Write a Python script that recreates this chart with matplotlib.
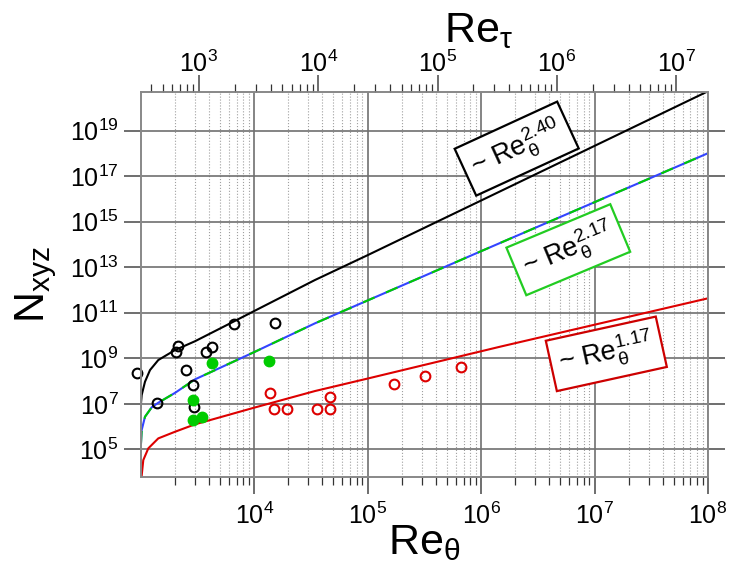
import matplotlib
matplotlib.use("Agg")
import matplotlib.pyplot as plt
from matplotlib.ticker import LogLocator, NullLocator, LogFormatterMathtext, NullFormatter

plt.rcParams['font.family'] = ['Liberation Sans', 'DejaVu Sans']
plt.rcParams['mathtext.fontset'] = 'custom'
plt.rcParams['mathtext.rm'] = 'Liberation Sans'
plt.rcParams['mathtext.it'] = 'Liberation Sans:italic'
plt.rcParams['mathtext.bf'] = 'Liberation Sans:bold'

# fitted curves
re_black = [1000, 1020, 1091, 1208, 1429, 2004, 3010, 5534, 1e4, 34360, 1e5, 1e6, 1e8]
n_black = [7.45e6, 2.43e7, 9.35e7, 3.05e8, 8.39e8, 2.29e9, 5.62e9, 2.63e10, 1.19e11, 2.75e12,
           3.39e13, 8.51e15, 5.37e20]

re_green = [1006, 1020, 1091, 1250, 1429, 2004, 3010, 1e4, 34360, 1e6, 1e8]
n_green = [1.84e5, 7.05e5, 2.71e6, 7.01e6, 1.12e7, 3.02e7, 1.19e8, 1.87e9, 3.44e10, 5.07e13, 1.02e18]

re_red = [1002, 1054, 1167, 1429, 2004, 3010, 1e4, 34360, 1e5, 1.469e6, 1e8]
n_red = [3.0e3, 3.39e4, 1.11e5, 3.04e5, 5.93e5, 1.26e6, 6.79e6, 3.65e7, 1.29e8, 3.23e9, 4.32e11]

# simulations
re_pts_black = [928, 1392, 2035, 2118, 2523, 2891, 2968, 3784, 4276, 6603, 15360]
n_pts_black = [2.19e8, 1.12e7, 1.95e9, 3.46e9, 3.05e8, 6.49e7, 7.02e6, 1.95e9, 3.23e9, 3.21e10, 3.44e10]

re_pts_green = [4276, 2891, 2891, 3491, 13600]
n_pts_green = [6.01e8, 1.47e7, 1.94e6, 2.76e6, 7.82e8]

re_pts_red = [13790, 14960, 19600, 36020, 46620, 46620, 170800, 322400, 669500]
n_pts_red = [3.07e7, 6.08e6, 6.08e6, 6.08e6, 6.08e6, 2.05e7, 7.18e7, 1.66e8, 4.01e8]

exponents = ["2.40", "2.17", "1.17"]

BLACK = "black"
GREEN = "#00cc00"
BLUE = "#3344ff"
RED = "#dd0000"

fig = plt.figure(figsize=(7.29, 5.72), dpi=100)
ax = fig.add_axes([140.7 / 729, (572 - 476.7) / 572, 567.3 / 729, 385 / 572])
ax.set_xscale("log")
ax.set_yscale("log")
ax.set_xlim(1e3, 1e8)
ax.set_ylim(10 ** 3.8, 10 ** 20.71)

ax.set_xticks([1e4, 1e5, 1e6, 1e7, 1e8])
ax.xaxis.set_minor_locator(LogLocator(base=10, subs=range(2, 10), numticks=20))
ax.xaxis.set_minor_formatter(NullFormatter())
ax.set_yticks([1e5, 1e7, 1e9, 1e11, 1e13, 1e15, 1e17, 1e19])
ax.yaxis.set_minor_locator(NullLocator())
ax.xaxis.set_major_formatter(LogFormatterMathtext())
ax.yaxis.set_major_formatter(LogFormatterMathtext())

ax.grid(which="major", axis="both", color="#707070", lw=1.2)
ax.grid(which="minor", axis="x", color="#a0a0a0", lw=0.8, ls=":")
ax.set_axisbelow(True)
ax.tick_params(which="major", direction="out", length=12, width=1.2, color="#555555",
               labelsize=18, pad=4)
ax.tick_params(axis="x", which="major", pad=7)
ax.tick_params(axis="y", which="major", right=True)
ax.tick_params(which="minor", direction="out", length=5.5, width=0.9, color="#333333")
for s in ax.spines.values():
    s.set_color("#888888")
    s.set_linewidth(1.2)

# curves
ax.plot(re_black, n_black, color=BLACK, lw=1.5)
ax.plot(re_green, n_green, color=BLUE, lw=1.5)
ax.plot(re_green, n_green, color=GREEN, lw=1.5, dashes=(6, 6))
ax.plot(re_red, n_red, color=RED, lw=1.5)

# data points
ax.plot(re_pts_black, n_pts_black, "o", mfc="none", mec=BLACK, ms=7, mew=1.5, clip_on=False)
ax.plot(re_pts_green, n_pts_green, "o", color=GREEN, ms=7.5, clip_on=False)
ax.plot(re_pts_red, n_pts_red, "o", mfc="none", mec=RED, ms=7, mew=1.5, clip_on=False)

# slope labels
boxes = [(2.06e6, 1.62e18, 24.7, BLACK), (5.87e6, 5.89e13, 22.7, "#22cc22"), (1.27e7, 1.57e9, 12.4, "#cc0000")]
for (bx, by, rot, col), ex in zip(boxes, exponents):
    ax.text(bx, by, "~ $\\mathregular{Re_{θ}^{%s}}$" % ex, fontsize=19.5, rotation=rot,
            rotation_mode="anchor", ha="center", va="center",
            bbox=dict(boxstyle="square,pad=0.3", fc="white", ec=col, lw=1.6))

ax.set_xlabel("$\\mathregular{Re_{θ}}$", fontsize=31)
ax.xaxis.set_label_coords(0.5, -0.12)
ax.set_ylabel("$\\mathregular{N_{xyz}}$", fontsize=31, va="center")
ax.yaxis.set_label_coords(-0.185, 0.5)

# top axis: Re_tau
ax2 = ax.twiny()
ax2.set_xscale("log")
ax2.set_xlim(325, 1.85e7)
ax2.set_xticks([1e3, 1e4, 1e5, 1e6, 1e7])
ax2.xaxis.set_major_formatter(LogFormatterMathtext())
ax2.xaxis.set_minor_locator(LogLocator(base=10, subs=range(2, 10), numticks=20))
ax2.xaxis.set_minor_formatter(NullFormatter())
ax2.tick_params(which="major", direction="out", length=12, width=1.2, color="#555555",
                labelsize=18, pad=-1.5)
ax2.tick_params(which="minor", direction="out", length=5.5, width=0.9, color="#333333")
for s in ax2.spines.values():
    s.set_color("#888888")
    s.set_linewidth(1.2)
ax2.set_xlabel("$\\mathregular{Re_{τ}}$", fontsize=31)
ax2.xaxis.set_label_coords(0.595, 1.13)

fig.savefig("out.png", dpi=100)
